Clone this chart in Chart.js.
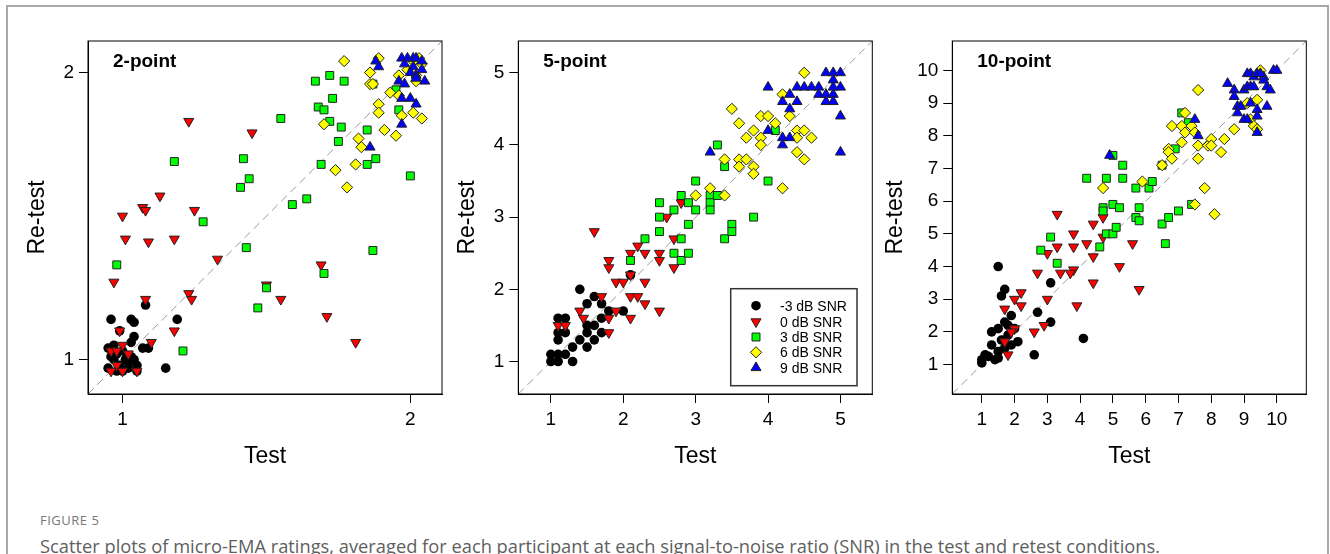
<!DOCTYPE html>
<html lang="en">
<head>
<meta charset="UTF-8">
<title>Figure 5</title>
<script src="https://cdn.jsdelivr.net/npm/chart.js@4.4.1/dist/chart.umd.min.js"></script>
<style>
  body { margin:0; background:#fff; width:1330px; height:554px; overflow:hidden; position:relative; }
  .frame { position:absolute; left:6px; top:5px; width:1323px; height:620px; border:2px solid #a8a8a8; box-sizing:border-box; }
  canvas.panel { position:absolute; top:0; }
  .fig { position:absolute; left:40px; top:511px; font-family:'Open Sans', sans-serif; font-size:13px; color:#777; letter-spacing:.5px; }
  .cap { position:absolute; left:40px; top:533px; font-family:'Open Sans', sans-serif; font-size:18.3px; color:#5e5e5e; white-space:nowrap; }
</style>
</head>
<body>
<div class="frame"></div>
<canvas id="p2" class="panel" width="450" height="480" style="left:0px"></canvas>
<canvas id="p5" class="panel" width="450" height="480" style="left:430px"></canvas>
<canvas id="p10" class="panel" width="460" height="480" style="left:858px"></canvas>
<div class="fig">FIGURE 5</div>
<div class="cap">Scatter plots of micro-EMA ratings, averaged for each participant at each signal-to-noise ratio (SNR) in the test and retest conditions.</div>

<script>
// series labels
const snrLabels = ['-3 dB SNR', '0 dB SNR', '3 dB SNR', '6 dB SNR', '9 dB SNR'];

// 2-point scale  [test, retest]
const two_m3 = [[0.96,1.14],[1.03,1.14],[1.04,1.13],[1.08,1.19],[1.19,1.14],[0.99,1.10],[1.04,1.08],[1.03,1.06],[1.07,1.04],[1.09,1.04],[0.95,1.04],[0.97,1.05],[0.98,1.02],[1.00,1.03],[1.01,1.00],[0.97,1.00],[0.99,0.98],[1.02,0.99],[1.04,1.00],[1.05,0.98],[0.95,0.97],[0.98,0.96],[1.02,0.97],[1.05,0.96],[1.15,0.97],[1.00,0.96],[0.96,1.01],[1.03,1.01]];
const two_0 = [[1.23,1.83],[1.45,1.79],[1.13,1.57],[1.07,1.53],[1.08,1.52],[1.25,1.52],[1.00,1.50],[1.01,1.42],[1.09,1.41],[1.18,1.42],[1.33,1.35],[0.97,1.27],[1.69,1.33],[1.50,1.26],[1.23,1.23],[1.24,1.21],[1.55,1.21],[1.71,1.15],[1.81,1.06],[1.08,1.21],[0.99,1.10],[1.18,1.10],[1.10,1.06],[1.00,1.05],[0.96,1.03],[0.98,1.03],[1.02,1.02],[0.98,0.98],[0.96,0.96],[1.00,0.96],[1.05,0.96]];
const two_3 = [[1.18,1.69],[0.98,1.33],[1.21,1.03],[1.28,1.48],[1.42,1.70],[1.44,1.63],[1.41,1.60],[1.55,1.84],[1.43,1.39],[1.59,1.54],[1.64,1.56],[1.50,1.25],[1.47,1.18],[1.67,1.97],[1.72,1.99],[1.77,1.97],[1.68,1.88],[1.70,1.87],[1.73,1.91],[1.72,1.83],[1.76,1.81],[1.75,1.76],[1.69,1.68],[1.70,1.30],[1.85,1.80],[1.85,1.68],[1.88,1.70],[1.87,1.38],[2.00,1.64],[1.96,1.87],[1.87,1.96],[1.95,1.94]];
const two_6 = [[1.77,2.04],[1.89,2.05],[1.86,2.00],[1.86,1.96],[1.87,1.96],[1.89,1.89],[1.89,1.86],[1.70,1.82],[1.91,1.80],[1.95,1.78],[1.82,1.77],[1.83,1.74],[1.74,1.66],[1.81,1.68],[1.78,1.60],[1.93,1.93],[1.96,1.99],[1.97,1.85],[2.01,1.86],[2.04,1.84],[2.02,1.97],[1.96,1.92],[2.03,2.05],[2.01,2.04],[2.04,2.03],[1.99,2.01],[2.02,1.99]];
const two_9 = [[1.88,2.04],[1.89,2.02],[1.86,1.74],[1.97,1.82],[1.96,1.97],[1.98,1.96],[1.97,1.91],[2.00,1.91],[2.02,1.89],[1.97,2.05],[1.99,2.05],[2.01,2.05],[2.02,2.05],[2.04,2.04],[1.98,2.03],[2.01,2.02],[2.04,2.01],[2.00,2.00],[2.02,1.99],[2.05,1.97],[2.02,1.98]];

// 5-point scale
const five_m3 = [[1.0,1.0],[1.0,1.1],[1.1,1.0],[1.1,1.1],[1.2,1.1],[1.3,1.0],[1.3,1.2],[1.1,1.3],[1.4,1.3],[1.5,1.2],[1.5,1.4],[1.6,1.3],[1.5,1.5],[1.6,1.5],[1.7,1.4],[1.7,1.6],[1.1,1.4],[1.2,1.4],[1.1,1.6],[1.2,1.6],[1.4,2.0],[1.6,1.9],[1.5,1.8],[1.7,1.8],[1.8,1.7],[2.0,1.7],[2.1,2.2]];
const five_0 = [[1.6,2.8],[1.8,2.4],[1.8,2.3],[1.9,2.1],[2.0,2.1],[2.1,2.2],[2.1,2.5],[2.2,2.6],[2.3,2.5],[2.3,2.1],[2.1,1.9],[2.2,1.9],[2.3,1.8],[2.5,1.7],[2.1,1.6],[1.7,1.9],[1.8,1.6],[1.8,1.4],[1.9,1.7],[1.4,1.7],[1.45,1.6],[1.1,1.5],[1.2,1.5],[2.5,2.5],[2.5,2.4],[2.6,3.0],[2.7,2.7],[2.7,2.3],[2.8,3.2]];
const five_3 = [[2.1,2.4],[2.3,2.7],[2.5,3.2],[2.5,3.0],[2.5,2.8],[2.7,3.1],[2.7,2.5],[2.8,3.3],[2.8,2.7],[2.8,2.4],[2.9,3.2],[2.9,2.9],[2.9,2.5],[3.0,3.5],[3.0,3.1],[3.2,3.3],[3.2,3.2],[3.2,3.1],[3.3,3.3],[3.3,4.0],[3.4,3.7],[3.4,2.7],[3.5,2.9],[3.5,2.8],[3.8,3.0],[4.0,3.5],[4.1,4.2]];
const five_6 = [[3.0,3.3],[3.2,3.4],[3.4,3.3],[3.4,3.8],[3.5,4.5],[3.6,4.3],[3.6,3.8],[3.6,3.7],[3.7,4.1],[3.7,3.8],[3.8,4.2],[3.8,3.7],[3.8,3.6],[3.9,4.4],[3.9,4.1],[3.9,4.0],[4.0,4.4],[4.1,4.3],[4.2,3.4],[4.2,4.7],[4.3,4.4],[4.4,4.2],[4.4,4.1],[4.4,3.9],[4.5,4.2],[4.5,3.8],[4.5,5.0],[4.6,4.1]];
const five_9 = [[3.2,3.9],[4.0,4.8],[4.0,4.2],[4.2,4.6],[4.2,4.1],[4.2,4.0],[4.3,4.7],[4.3,4.5],[4.3,4.1],[4.4,4.6],[4.4,4.8],[4.5,4.8],[4.6,4.8],[4.7,4.8],[4.7,4.7],[4.8,5.0],[4.9,5.0],[5.0,5.0],[4.9,4.9],[4.8,4.7],[4.9,4.7],[4.8,4.6],[4.9,4.6],[4.9,4.8],[5.0,4.8],[5.0,4.4],[5.0,3.9]];

// 10-point scale
const ten_m3 = [[1.5,4.0],[1.7,3.3],[1.6,3.1],[3.1,3.5],[2.7,2.6],[3.1,2.3],[4.1,1.8],[2.6,1.3],[1.9,2.5],[1.7,2.3],[1.3,2.0],[1.5,2.1],[2.0,2.1],[2.1,1.7],[1.9,1.6],[1.3,1.6],[1.8,1.9],[1.5,1.4],[1.4,1.15],[1.1,1.3],[1.0,1.05],[1.0,1.15],[1.5,1.2],[1.7,1.5],[1.6,1.75],[1.2,1.25],[1.8,2.2]];
const ten_0 = [[3.3,5.6],[3.8,5.0],[4.4,5.3],[4.7,5.5],[4.7,4.9],[4.2,4.7],[3.8,4.6],[3.3,4.6],[3.0,4.4],[4.4,4.3],[5.6,4.7],[5.2,4.0],[5.8,3.3],[4.4,3.5],[3.9,2.8],[3.8,3.9],[3.7,3.8],[3.4,3.8],[2.7,3.8],[3.0,3.0],[2.2,3.2],[2.0,3.0],[2.2,2.8],[1.7,2.7],[2.9,2.2],[2.6,2.0],[2.0,2.1],[1.9,2.0],[1.7,1.7],[1.8,1.3]];
const ten_3 = [[2.8,4.5],[3.1,4.9],[3.3,4.1],[4.2,6.7],[4.8,6.7],[4.6,4.6],[4.7,5.8],[4.7,5.7],[4.8,5.0],[5.0,5.9],[5.0,5.0],[5.1,5.2],[5.2,5.8],[5.0,7.4],[5.3,7.1],[5.3,6.7],[5.7,6.4],[5.7,5.5],[5.8,5.8],[5.8,5.4],[6.1,6.4],[6.2,6.6],[6.5,7.1],[6.5,5.3],[6.6,4.7],[6.7,5.5],[7.0,5.7],[7.4,5.9],[6.9,7.6],[7.1,8.7],[7.3,8.4]];
const ten_6 = [[4.7,6.4],[5.9,6.6],[6.5,7.1],[6.7,7.6],[6.7,7.5],[6.8,7.3],[6.8,8.3],[7.1,8.3],[7.1,7.8],[7.2,8.7],[7.2,8.1],[7.4,8.3],[7.5,8.1],[7.6,9.4],[7.6,7.7],[7.6,7.3],[7.5,5.9],[7.8,6.4],[7.9,7.7],[8.0,7.9],[8.0,7.7],[8.1,5.6],[8.3,7.5],[8.4,7.9],[8.7,8.2],[9.1,9.0],[9.4,9.1],[9.2,8.5],[9.3,8.3],[9.4,8.2],[9.5,10.0]];
const ten_9 = [[4.9,7.4],[7.5,8.5],[7.6,8.0],[8.5,9.6],[8.7,9.4],[8.7,9.2],[8.8,8.9],[8.9,8.9],[8.8,8.7],[9.0,8.5],[9.1,8.5],[9.0,9.4],[9.1,9.5],[9.2,9.5],[9.3,9.5],[9.1,9.9],[9.2,9.9],[9.3,9.8],[9.4,9.9],[9.2,9.0],[9.4,8.8],[9.4,8.6],[9.4,8.1],[9.6,9.8],[9.6,9.7],[9.7,9.5],[9.8,9.4],[9.7,8.9],[9.9,10.0],[10.0,10.0],[9.5,9.9]];

// axis ranges and tick values
const range2 = [0.88, 2.11], ticks2 = [1, 2];
const range5 = [0.55, 5.44], ticks5 = [1, 2, 3, 4, 5];
const range10 = [0.1, 10.9], ticks10 = [1, 2, 3, 4, 5, 6, 7, 8, 9, 10];

// marker look per SNR series
const markers = [
  { color: '#000000', style: 'circle',   radius: 4.8, rot: 0,   border: 0 },
  { color: '#ff0000', style: 'triangle', radius: 5.8, rot: 180, border: 1 },
  { color: '#00ff00', style: 'rect',     radius: 5.6, rot: 0,   border: 1 },
  { color: '#ffff00', style: 'rectRot',  radius: 5.6, rot: 0,   border: 1 },
  { color: '#0000ff', style: 'triangle', radius: 5.8, rot: 0,   border: 1 }
];

const FONT = "'Liberation Sans', Arial, sans-serif";

// frame around plot area + panel title
const boxPlugin = {
  id: 'box',
  afterDraw(chart, args, opts) {
    const { ctx, chartArea: a } = chart;
    ctx.save();
    ctx.strokeStyle = '#000';
    ctx.lineWidth = 1;
    ctx.strokeRect(a.left, a.top, a.right - a.left, a.bottom - a.top);
    ctx.fillStyle = '#000';
    ctx.font = 'bold 19px ' + FONT;
    ctx.textBaseline = 'middle';
    ctx.fillText(opts.label, a.left + 25, a.top + 21);
    ctx.restore();
  }
};

// legend box in the lower right corner (5-point panel only)
const legendPlugin = {
  id: 'boxLegend',
  afterDraw(chart, args, opts) {
    if (!opts.show) return;
    const { ctx, chartArea: a } = chart;
    const bx = a.right - 141.6, by = a.bottom - 105.3;
    ctx.save();
    ctx.strokeStyle = '#333';
    ctx.lineWidth = 1.5;
    ctx.strokeRect(bx, by, 126.3, 97);
    const rows = [17, 33, 48.3, 63.6, 79];
    ctx.font = '14px ' + FONT;
    ctx.textBaseline = 'middle';
    snrLabels.forEach((lab, i) => {
      const m = markers[i];
      ctx.fillStyle = m.color;
      ctx.strokeStyle = '#222';
      ctx.lineWidth = 1;
      Chart.helpers.drawPoint(ctx, { pointStyle: m.style, radius: m.radius, rotation: m.rot, borderWidth: m.border }, bx + 25.3, by + rows[i]);
      ctx.fillStyle = '#000';
      ctx.fillText(lab, bx + 49.3, by + rows[i] + 1);
    });
    ctx.restore();
  }
};

function makePanel(id, label, series, range, ticks, pad, yWidth, showLegend) {
  const datasets = series.map((pts, i) => ({
    label: snrLabels[i],
    data: pts.map(p => ({ x: p[0], y: p[1] })),
    backgroundColor: markers[i].color,
    borderColor: '#222',
    borderWidth: markers[i].border,
    pointStyle: markers[i].style,
    pointRadius: markers[i].radius,
    pointRotation: markers[i].rot,
    order: 5 - i
  }));
  datasets.push({
    label: 'identity',
    data: [{ x: range[0], y: range[0] }, { x: range[1], y: range[1] }],
    showLine: true,
    borderColor: '#9a9a9a',
    borderWidth: 1,
    borderDash: [8, 5],
    pointRadius: 0,
    order: 10
  });

  const axis = (title, isX) => ({
    type: 'linear',
    min: range[0],
    max: range[1],
    afterBuildTicks: s => { s.ticks = ticks.map(v => ({ value: v })); },
    afterFit: s => { if (isX) s.height = 80; else s.width = yWidth; },
    grid: { drawOnChartArea: false, drawTicks: true, tickLength: 9, color: '#000' },
    border: { display: true, color: '#000', width: 1 },
    ticks: { color: '#000', padding: 5, maxRotation: 0, autoSkip: false, font: { family: FONT, size: 19 } },
    title: { display: true, text: title, color: '#000', font: { family: FONT, size: 23 } }
  });

  new Chart(document.getElementById(id), {
    type: 'scatter',
    data: { datasets },
    options: {
      responsive: false,
      animation: false,
      events: [],
      layout: { padding: pad },
      scales: { x: axis('Test', true), y: axis('Re-test', false) },
      plugins: {
        legend: { display: false },
        tooltip: { enabled: false },
        box: { label },
        boxLegend: { show: showLegend }
      }
    },
    plugins: [boxPlugin, legendPlugin]
  });
}

makePanel('p2', '2-point', [two_m3, two_0, two_3, two_6, two_9], range2, ticks2,
  { left: 20, right: 8, top: 41, bottom: 6 }, 68, false);
makePanel('p5', '5-point', [five_m3, five_0, five_3, five_6, five_9], range5, ticks5,
  { left: 20, right: 7.7, top: 41, bottom: 6 }, 68.3, true);
makePanel('p10', '10-point', [ten_m3, ten_0, ten_3, ten_6, ten_9], range10, ticks10,
  { left: 20, right: 11.7, top: 41, bottom: 6 }, 74.3, false);
</script>
</body>
</html>
